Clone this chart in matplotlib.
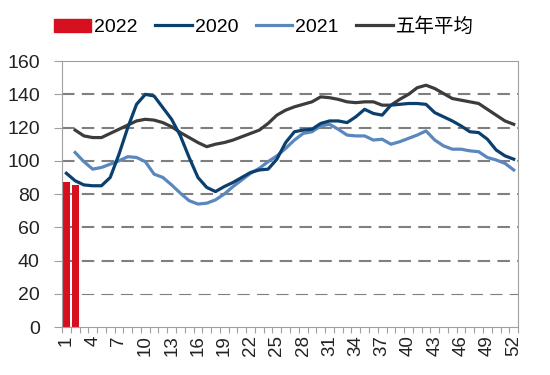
import numpy as np
import matplotlib
matplotlib.use('Agg')
import matplotlib.pyplot as plt
from matplotlib.patches import Patch
from matplotlib.lines import Line2D

plt.rcParams['font.family'] = ['Liberation Sans', 'Noto Sans CJK SC']

weeks = np.arange(1, 53)

# 2022 (bars), only first two weeks available
v2022 = [87.5, 85.5]

v2020 = [92.5, 88, 85.5, 85, 85, 90, 104, 120, 134, 140,
         139, 132, 125, 115, 102, 90, 84, 81.5, 84.5, 87,
         90, 93, 94.5, 95, 101, 111, 117.5, 118.5, 119, 122.5,
         124, 124, 123, 126.5, 131, 128.5, 127.5, 133.5, 134, 134.5,
         134.5, 134, 129, 126.5, 124, 121, 117.5, 117, 113, 106.5,
         103, 101]

# 2021 and five-year average start at week 2
v2021 = [np.nan, 105, 99.5, 95, 96, 98, 100, 102.5, 102, 99.5,
         92, 90, 85.5, 80.5, 76, 74, 74.5, 76.5, 80, 84.5,
         88.5, 92.5, 95.5, 99.5, 103, 107.5, 112.5, 116.5, 117.5, 121,
         122, 119, 115.5, 115, 115, 112.5, 113, 110, 111.5, 113.5,
         115.5, 118, 112.5, 109, 107, 107, 106, 105.5, 102, 100.5,
         98.5, 94.5]

avg5 = [np.nan, 118.5, 115, 114, 114, 116.5, 119, 121.5, 124, 125,
        124.5, 123, 120.5, 117, 114, 111, 108.5, 110, 111, 112.5,
        114.5, 116.5, 118.5, 122.5, 127.5, 130.5, 132.5, 134, 135.5, 138.5,
        138, 137, 135.5, 135, 135.5, 135.5, 133.5, 133.5, 137, 140,
        144, 145.5, 143.5, 140.5, 137.5, 136.5, 135.5, 134.5, 131, 127.5,
        124, 122]

yticks = [0, 20, 40, 60, 80, 100, 120, 140, 160]
xlabels = weeks[::3]

c22 = '#d7101f'
c20 = '#0b3f6e'
c21 = '#5b87bf'
cav = '#3c3c3c'
grey = '#a0a0a0'

fig = plt.figure(figsize=(5.5, 3.75), dpi=100)
ax = fig.add_axes([0.1127, 0.128, 0.8293, 0.709])

# gridlines (dashed, thinner at 20, solid top line)
for y in yticks[1:-1]:
    lw = 0.8 if y == 20 else 1.5
    ax.axhline(y, color='#7f7f7f', lw=lw, dashes=(6, 3.5) if y != 20 else (11, 6.5), zorder=0)

ax.bar(weeks[:len(v2022)], v2022, width=0.8, color=c22, zorder=2)
ax.plot(weeks, avg5, color=cav, lw=2.3, zorder=3)
ax.plot(weeks, v2021, color=c21, lw=2.3, zorder=3)
ax.plot(weeks, v2020, color=c20, lw=2.3, zorder=4)

ax.set_xlim(0.5, 52.5)
ax.set_ylim(0, 160)
ax.set_yticks(yticks)
ax.set_xticks(xlabels)
ax.set_xticklabels([str(w) for w in xlabels], rotation=90)
ax.set_xticks(np.arange(0.5, 53, 1), minor=True)

ax.tick_params(axis='x', which='major', length=0, pad=6, labelsize=13.5, labelcolor='#222222')
ax.tick_params(axis='x', which='minor', length=4, color=grey, width=0.8, direction='out')
ax.tick_params(axis='y', length=6, color=grey, width=0.8, pad=10, labelsize=14, labelcolor='#222222')

for s in ax.spines.values():
    s.set_color(grey)
    s.set_linewidth(0.8)

handles = [Patch(color=c22),
           Line2D([], [], color=c20, lw=2.3),
           Line2D([], [], color=c21, lw=2.3),
           Line2D([], [], color=cav, lw=2.3)]
fig.legend(handles, ['2022', '2020', '2021', '五年平均'], loc='center',
           bbox_to_anchor=(0.48, 0.928), ncol=4, frameon=False, fontsize=14,
           handlelength=1.9, handletextpad=0.15, columnspacing=0.9)

fig.savefig('out.png', dpi=100)
